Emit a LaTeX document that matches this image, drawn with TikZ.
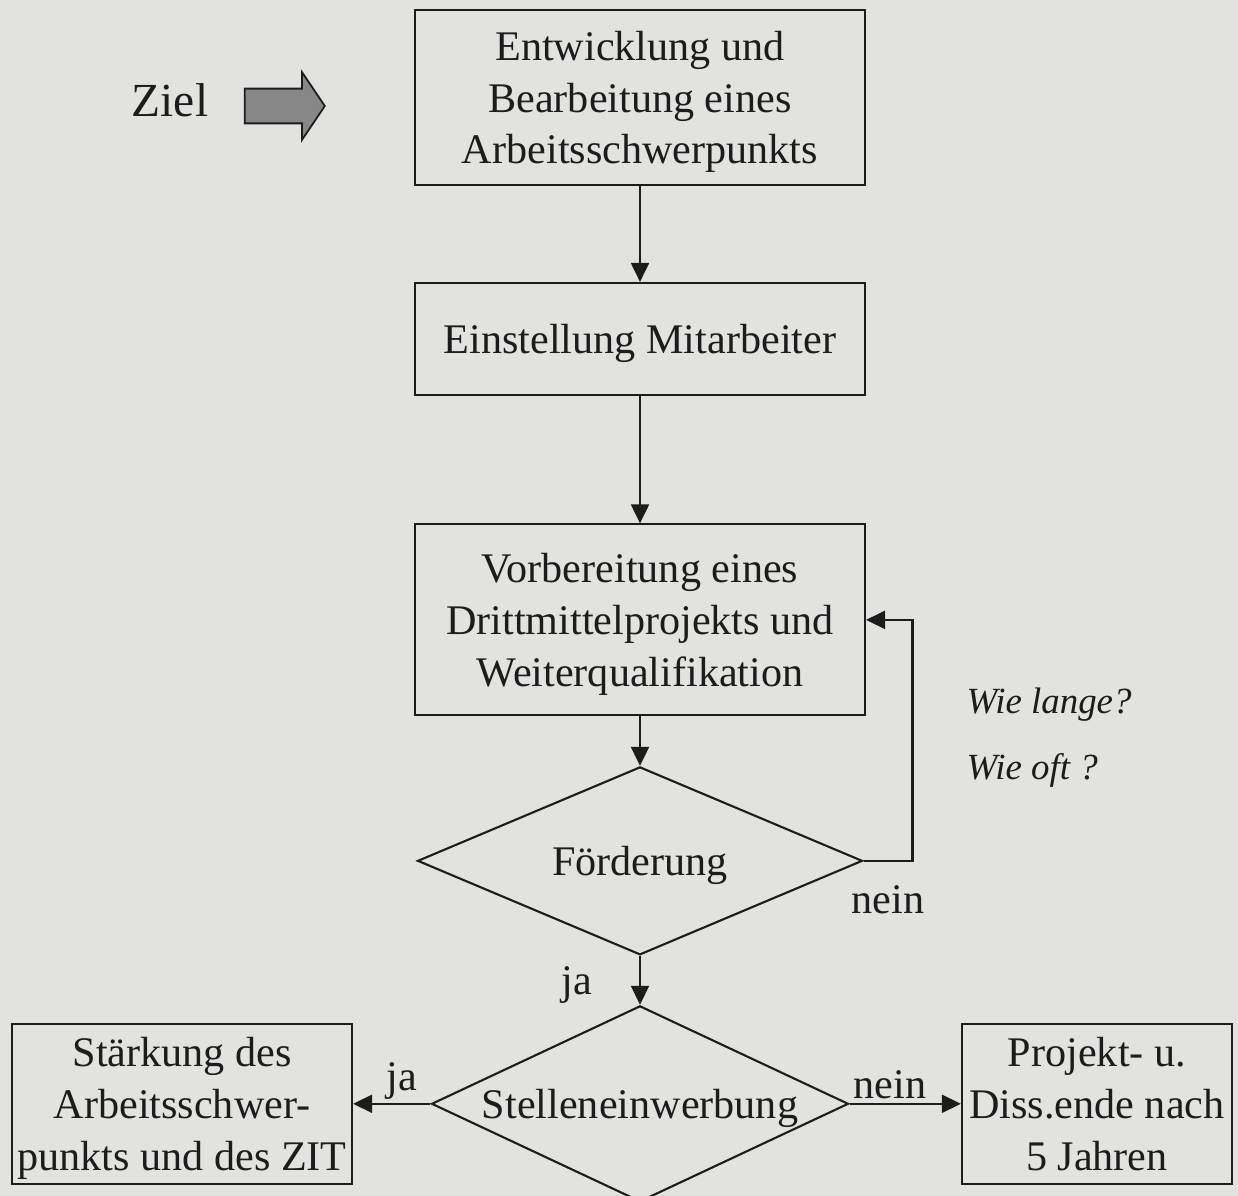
\documentclass[tikz,border=0pt]{standalone}
\usepackage{fontspec}
\setmainfont{Liberation Serif}
\usetikzlibrary{shapes.geometric,shapes.arrows,arrows.meta}
\definecolor{papier}{RGB}{226,226,224}
\definecolor{tinte}{RGB}{28,28,28}
\definecolor{pfeilgrau}{RGB}{135,135,135}
\begin{document}
\begin{tikzpicture}[x=0.02cm, y=-0.02cm, node distance=4.83cm, line width=1.2pt, draw=tinte, text=tinte,
  >={Triangle[length=0.38cm,width=0.36cm]},
  kasten/.style={draw=tinte, rectangle, align=center, inner sep=0pt, text depth=0pt, minimum width=9cm, font=\fontsize{24}{29.5}\selectfont},
  raute/.style={draw=tinte, diamond, aspect=2.2, inner sep=0pt, text depth=0pt, font=\fontsize{24}{29.5}\selectfont},
  beschr/.style={inner sep=2pt, font=\fontsize{24}{29.5}\selectfont}]
\fill[papier] (0,0) rectangle (1238,1196);
\useasboundingbox (0,0) rectangle (1238,1196);

\node[kasten, minimum height=3.5cm] (entw) at (640,97.5) {Entwicklung und\\Bearbeitung eines\\Arbeitsschwerpunkts};
\node[kasten, minimum height=2.24cm] (einst) [below of=entw] {Einstellung Mitarbeiter};
\node[kasten, minimum height=3.82cm, node distance=5.62cm] (vorb) [below of=einst] {Vorbereitung eines\\Drittmittelprojekts und\\Weiterqualifikation};
\node[raute, minimum width=8.9cm, minimum height=3.76cm, node distance=4.82cm] (foerd) [below of=vorb] {Förderung};
\node[raute, minimum width=8.34cm, minimum height=3.92cm, node distance=4.86cm] (stell) [below of=foerd] {Stelleneinwerbung};
\node[kasten, minimum width=6.8cm, minimum height=3.2cm, node distance=9.16cm] (staerk) [left of=stell] {Stärkung des\\Arbeitsschwer-\\punkts und des ZIT};
\node[kasten, minimum width=5.4cm, minimum height=3.2cm, node distance=9.14cm] (proj) [right of=stell] {Projekt- u.\\Diss.ende nach\\5 Jahren};

\node[beschr, font=\fontsize{27}{32}\selectfont] (ziel) at (170,100) {Ziel};
\node[single arrow, draw=tinte, fill=pfeilgrau, line width=1pt, inner sep=0pt, inner ysep=0.33cm,
  minimum height=1.6cm, single arrow head extend=0.33cm, single arrow tip angle=112] (zielpfeil) at (279,106) {};

\node[beschr, anchor=west, font=\fontsize{21}{25}\itshape] (lange) at (962,705) {Wie lange?};
\node[beschr, anchor=west, font=\fontsize{21}{25}\itshape] (oft) at (962,770) {Wie oft ?};
\node[beschr] (nein1) at (888,900) {nein};

\draw[->] (entw) -- (einst);
\draw[->] (einst) -- (vorb);
\draw[->] (vorb) -- (foerd);
\draw[->] (foerd.east) -- ++(0.98cm,0) |- (vorb.east);
\draw[->] (foerd) -- node[beschr, left, xshift=-0.87cm, yshift=-0.1cm] {ja} (stell);
\draw[->] (stell.west) -- node[beschr, above, xshift=0.2cm] {ja} (staerk.east);
\draw[->] (stell.east) -- node[beschr, above, xshift=-0.3cm] {nein} (proj.west);
\end{tikzpicture}
\end{document}
